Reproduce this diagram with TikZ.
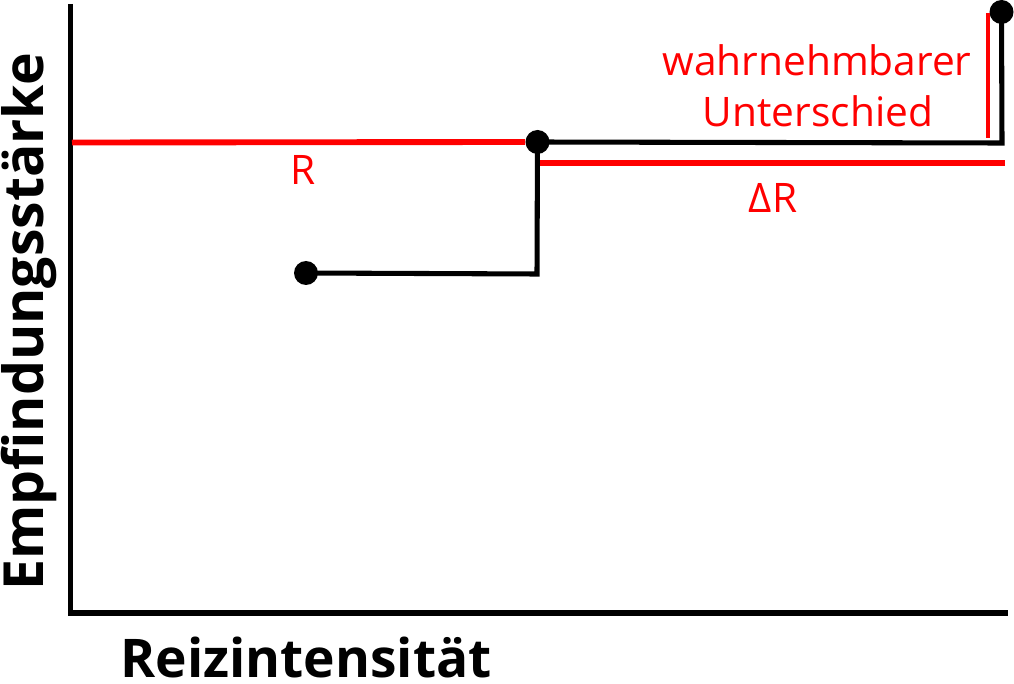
\documentclass[tikz,border=0pt]{standalone}
\usepackage{fontspec}
\setmainfont{Open Sans}
\usetikzlibrary{positioning}
\definecolor{wbRed}{HTML}{FF0000}

\begin{document}
\begin{tikzpicture}[x=0.75pt, y=-0.75pt,
    axisline/.style={line width=3.8pt, black},
    curveline/.style={line width=3.8pt, black},
    redline/.style={line width=4.4pt, wbRed},
    dotmark/.style={circle, fill=black, inner sep=0pt, minimum size=18pt},
    redlabel/.style={text=wbRed, font=\fontsize{30.5}{38}\selectfont, inner sep=0pt},
    axislabel/.style={font=\bfseries\fontsize{40}{48}\selectfont, inner sep=0pt}]
    \useasboundingbox (0,0) rectangle (1014,684);
    % axes
    \coordinate (origin) at (70.5,613);
    \coordinate (ytop) at (70.5,4);
    \coordinate (xend) at (1008,613);
    \draw[axisline] (ytop) -- (origin) -- (xend);
    \node[axislabel, anchor=base] (xlabel) at (306,677) {Reizintensität};
    \node[axislabel, anchor=base, rotate=90, font=\bfseries\fontsize{41.5}{48}\selectfont]
        (ylabel) at (43,322) {Empfindungsstärke};
    % steps
    \coordinate (rstart) at (72,142.5);
    \node[dotmark] (d1) at (306,273) {};
    \node[dotmark] (d2) at (537.5,142) {};
    \node[dotmark] (d3) at (1001.5,12) {};
    \coordinate (c1) at (537,274);
    \coordinate (c2) at (1002,143);
    \draw[redline] (rstart) -- (d2.west);
    \draw[curveline] (d1.center) -- (c1) -- (d2.center) -- (c2) -- (d3.center);
    \coordinate (dra) at (540,163);
    \coordinate (drb) at (1005,163);
    \draw[redline] (dra) -- (drb);
    \coordinate (jnda) at (988,13);
    \coordinate (jndb) at (988,138);
    \draw[redline, line width=3.6pt] (jnda) -- (jndb);
    % labels
    \node[redlabel, anchor=base] (rlab) at (303,185) {R};
    \node[redlabel, anchor=base] (drlab) at (773,212.5) {ΔR};
    \node[redlabel, anchor=base] (jnd1) at (817,75.5) {wahrnehmbarer};
    \node[redlabel, anchor=base] (jnd2) at (818,126.5) {Unterschied};
\end{tikzpicture}
\end{document}
